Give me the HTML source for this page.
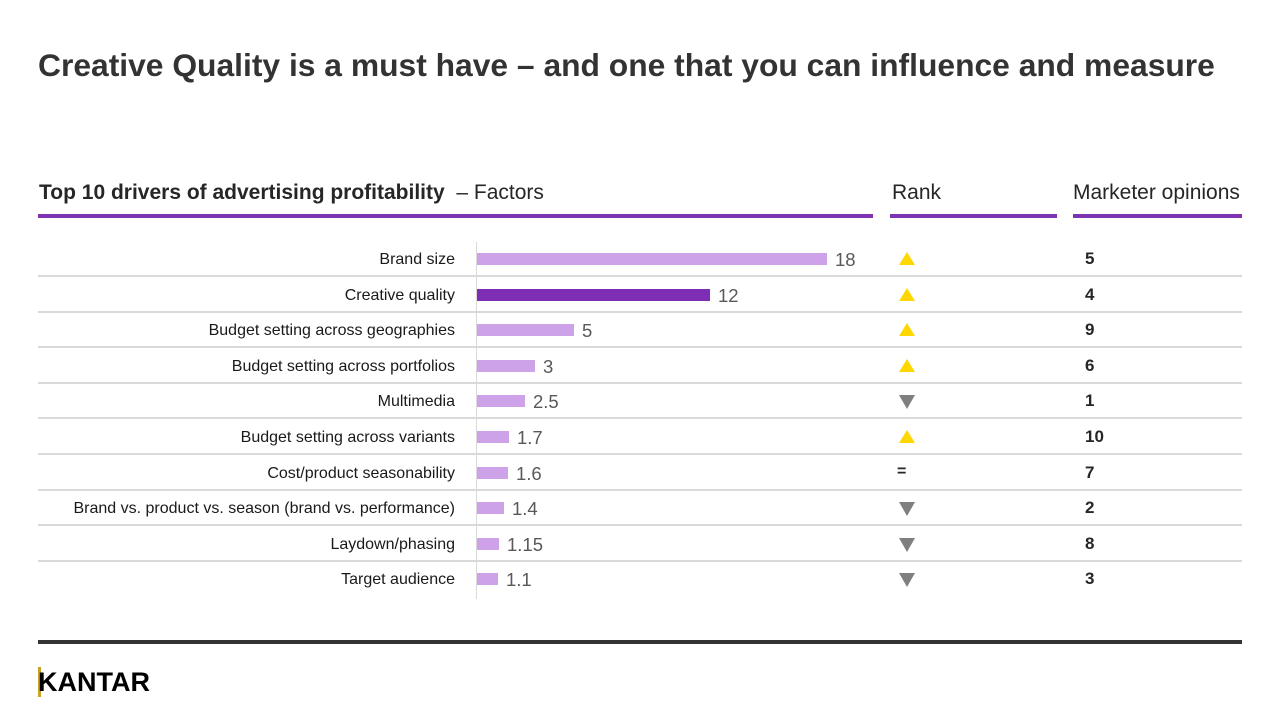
<!DOCTYPE html>
<html><head><meta charset="utf-8"><style>
*{margin:0;padding:0;box-sizing:border-box}
body{width:1280px;height:720px;background:#fff;position:relative;overflow:hidden;font-family:"Liberation Sans",Arial,sans-serif;color:#262626}
.a{position:absolute;white-space:nowrap}
.lbl{position:absolute;right:825px;font-size:16px;line-height:18px;color:#1a1a1a;white-space:nowrap}
.bar{position:absolute;left:477px;height:12px;background:#cda2e8}
.val{position:absolute;font-size:18.5px;line-height:20px;color:#595959}
.sep{position:absolute;left:38px;width:1204px;height:2px;background:#d9d9d9}
.num{position:absolute;left:1085px;font-size:17px;font-weight:bold;line-height:20px;color:#262626}
.up{position:absolute;left:899px;width:0;height:0;border-left:8px solid transparent;border-right:8px solid transparent;border-bottom:13px solid #ffd700}
.dn{position:absolute;left:899px;width:0;height:0;border-left:8px solid transparent;border-right:8px solid transparent;border-top:14px solid #7f7f7f}
</style></head><body>
<div class="a" style="left:38px;top:47px;font-size:31.8px;font-weight:bold;color:#333">Creative Quality is a must have – and one that you can influence and measure</div>
<div class="a" style="left:39px;top:181px;font-size:21px;color:#262626"><b>Top 10 drivers of advertising profitability</b>&nbsp; – Factors</div>
<div class="a" style="left:892px;top:181px;font-size:21px;color:#262626">Rank</div>
<div class="a" style="left:1073px;top:181px;font-size:21px;color:#262626">Marketer opinions</div>
<div class="a" style="left:38px;top:214px;width:835px;height:4px;background:#7d34b0"></div>
<div class="a" style="left:890px;top:214px;width:167px;height:4px;background:#7d34b0"></div>
<div class="a" style="left:1073px;top:214px;width:169px;height:4px;background:#7d34b0"></div>
<div class="a" style="left:476px;top:242px;width:1px;height:357px;background:#d9d9d9"></div>
<div class="a" style="left:38px;top:640px;width:1204px;height:4px;background:#333"></div>
<div class="a" style="left:38px;top:667px;font-size:27px;font-weight:bold;color:#000;letter-spacing:0px"><span style="border-left:3px solid #c9a227;margin-right:-3px"></span>KANTAR</div>
<div id="rows"></div>
<script>
var d=[["Brand size",18,827,"u",5],["Creative quality",12,710,"u",4],["Budget setting across geographies",5,574,"u",9],["Budget setting across portfolios",3,535,"u",6],["Multimedia",2.5,525,"d",1],["Budget setting across variants",1.7,509,"u",10],["Cost/product seasonability",1.6,508,"e",7],["Brand vs. product vs. season (brand vs. performance)",1.4,504,"d",2],["Laydown/phasing",1.15,499,"d",8],["Target audience",1.1,498,"d",3]];
var h="";
d.forEach(function(r,i){var c=259+i*35.6;
h+='<div class="lbl" style="top:'+(c-8)+'px">'+r[0]+'</div>';
h+='<div class="bar" style="top:'+(c-6)+'px;width:'+(r[2]-477)+'px;'+(i==1?'background:#7e2db5':'')+'"></div>';
h+='<div class="val" style="left:'+(r[2]+8)+'px;top:'+(c-9)+'px">'+r[1]+'</div>';
if(r[3]=="u")h+='<div class="up" style="top:'+(c-7)+'px"></div>';
else if(r[3]=="d")h+='<div class="dn" style="top:'+(c-6)+'px"></div>';
else h+='<div class="a" style="left:897px;top:'+(c-10)+'px;font-size:16px;font-weight:bold">=</div>';
h+='<div class="num" style="top:'+(c-10)+'px">'+r[4]+'</div>';
if(i<9)h+='<div class="sep" style="top:'+(c+16)+'px"></div>';});
document.getElementById("rows").innerHTML=h;
</script>
</body></html>
